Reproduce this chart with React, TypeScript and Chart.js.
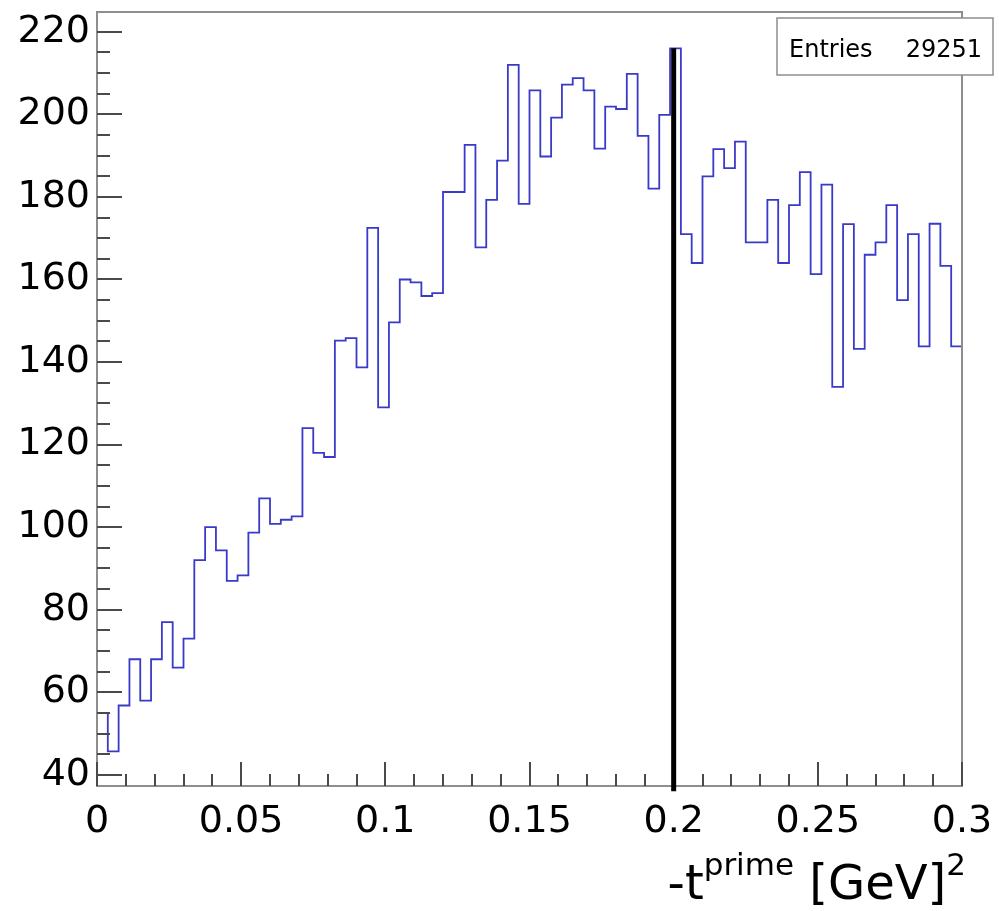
import React, { useEffect, useRef } from "react";
import { Chart, registerables } from "chart.js";

Chart.register(...registerables);

// ---- data ----
const xMin = 0;
const xMax = 0.3;
const yMin = 37.3;
const yMax = 224.8;
const nBins = 80;

const binCounts = [
  55, 45.7, 56.8, 68, 58, 68, 77, 66, 73, 92,
  100, 94.4, 87, 88.3, 98.7, 107, 100.8, 101.8, 102.6, 124,
  118, 117, 145.2, 145.8, 138.7, 172.5, 129, 149.6, 160, 159.3,
  156, 156.7, 181.2, 181.2, 192.6, 167.8, 179.3, 188.8, 212, 178.3,
  205.8, 189.8, 199.2, 207.2, 208.8, 205.8, 191.7, 201.9, 201.3, 209.8,
  194.8, 182, 199.9, 216, 171, 164, 185, 191.6, 187, 193.4,
  169, 169, 179.3, 164, 178, 186, 161.3, 183, 134, 173.4,
  143.2, 166, 169, 178, 155, 171, 143.8, 173.5, 163.3, 143.8,
];

const xTickValues = [0, 0.05, 0.1, 0.15, 0.2, 0.25, 0.3];
const xTickLabels = ["0", "0.05", "0.1", "0.15", "0.2", "0.25", "0.3"];
const yTickValues = [40, 60, 80, 100, 120, 140, 160, 180, 200, 220];
const yTickLabels = ["40", "60", "80", "100", "120", "140", "160", "180", "200", "220"];

const entriesLabel = "Entries";
const entriesValue = "29251";
const cutX = 0.2;
const cutLineBottom = 36;

const FONT = '"DejaVu Sans", "Liberation Sans", Arial, sans-serif';

const binWidth = (xMax - xMin) / nBins;
const histPoints = binCounts
  .map((v, i) => ({ x: xMin + i * binWidth, y: v }))
  .concat([{ x: xMax, y: binCounts[binCounts.length - 1] }]);

const zeroPad = (s: any) => {
  s.paddingTop = 0;
  s.paddingBottom = 0;
  s.paddingLeft = 0;
  s.paddingRight = 0;
};

const overlayPlugin = {
  id: "rootOverlay",
  afterDraw(chart: any) {
    const { ctx, chartArea: ca } = chart;
    const xs = chart.scales.x;
    const ys = chart.scales.y;
    ctx.save();

    // frame
    ctx.strokeStyle = "#8e8e8e";
    ctx.lineWidth = 2;
    ctx.strokeRect(ca.left, ca.top, ca.right - ca.left, ca.bottom - ca.top);

    // ticks
    ctx.strokeStyle = "#4a4a4a";
    ctx.lineWidth = 2;
    ctx.beginPath();
    const yStep = yTickValues[1] - yTickValues[0];
    const yMinorStep = yStep / 4;
    for (let k = -2; k <= 60; k++) {
      const v = yTickValues[0] + k * yMinorStep;
      if (v < yMin || v > yMax) continue;
      const py = Math.round(ys.getPixelForValue(v));
      const major = k % 4 === 0;
      ctx.moveTo(ca.left, py);
      ctx.lineTo(ca.left + (major ? 25 : 13), py);
    }
    const xStep = xTickValues[1] - xTickValues[0];
    const xMinorStep = xStep / 5;
    for (let k = 0; k <= 40; k++) {
      const v = xTickValues[0] + k * xMinorStep;
      if (v > xMax + 1e-9) continue;
      const px = Math.round(xs.getPixelForValue(v));
      const major = k % 5 === 0;
      ctx.moveTo(px, ca.bottom);
      ctx.lineTo(px, ca.bottom - (major ? 24 : 12));
    }
    ctx.stroke();

    // cut line
    const maxCount = Math.max(...binCounts);
    const cx = xs.getPixelForValue(cutX);
    ctx.strokeStyle = "#000";
    ctx.lineWidth = 5;
    ctx.beginPath();
    ctx.moveTo(cx, ys.getPixelForValue(maxCount));
    ctx.lineTo(cx, ys.getPixelForValue(cutLineBottom));
    ctx.stroke();

    // stats box
    const bx = 777, by = 18, bw = 216, bh = 57;
    ctx.fillStyle = "#fff";
    ctx.fillRect(bx, by, bw, bh);
    ctx.strokeStyle = "#8e8e8e";
    ctx.lineWidth = 1.5;
    ctx.strokeRect(bx, by, bw, bh);
    ctx.fillStyle = "#000";
    ctx.font = `24px ${FONT}`;
    ctx.textBaseline = "alphabetic";
    ctx.textAlign = "left";
    ctx.fillText(entriesLabel, bx + 12, by + 39);
    ctx.textAlign = "right";
    ctx.fillText(entriesValue, bx + bw - 11, by + 39);

    // axis title: -t^{prime} [GeV]^{2}
    const big = `48px ${FONT}`;
    const small = `31px ${FONT}`;
    const parts = [
      { t: "-t", f: big, dy: 0 },
      { t: "prime", f: small, dy: -24 },
      { t: " [GeV]", f: big, dy: 0 },
      { t: "2", f: small, dy: -24 },
    ];
    let total = 0;
    for (const p of parts) {
      ctx.font = p.f;
      total += ctx.measureText(p.t).width;
    }
    let tx = 966 - total;
    const base = 899;
    ctx.textAlign = "left";
    for (const p of parts) {
      ctx.font = p.f;
      ctx.fillText(p.t, tx, base + p.dy);
      tx += ctx.measureText(p.t).width;
    }
    ctx.restore();
  },
};

export default function App() {
  const ref = useRef<HTMLCanvasElement>(null);
  useEffect(() => {
    document.body.style.margin = "0";
    const chart = new Chart(ref.current as HTMLCanvasElement, {
      type: "line",
      data: {
        datasets: [
          {
            data: histPoints,
            stepped: "before",
            borderColor: "rgb(58,58,200)",
            borderWidth: 1.8,
            pointRadius: 0,
            fill: false,
            tension: 0,
          },
        ],
      },
      options: {
        responsive: false,
        animation: false,
        devicePixelRatio: 1,
        layout: { autoPadding: false, padding: { left: 0, right: 37, top: 12, bottom: 0 } },
        plugins: { legend: { display: false }, tooltip: { enabled: false } },
        scales: {
          x: {
            type: "linear",
            min: xMin,
            max: xMax,
            grid: { display: false, drawTicks: false },
            border: { display: false },
            afterBuildTicks: (s: any) => {
              s.ticks = xTickValues.map((v) => ({ value: v }));
            },
            afterFit: (s: any) => {
              s.height = 125;
              zeroPad(s);
            },
            ticks: {
              callback: (_v: any, i: number) => xTickLabels[i],
              font: { family: FONT, size: 38 },
              color: "#000",
              padding: 13,
              maxRotation: 0,
              autoSkip: false,
            },
          },
          y: {
            type: "linear",
            min: yMin,
            max: yMax,
            grid: { display: false, drawTicks: false },
            border: { display: false },
            afterBuildTicks: (s: any) => {
              s.ticks = yTickValues.map((v) => ({ value: v }));
            },
            afterFit: (s: any) => {
              s.width = 97;
              zeroPad(s);
            },
            ticks: {
              callback: (_v: any, i: number) => yTickLabels[i],
              font: { family: FONT, size: 38 },
              color: "#000",
              padding: 7,
              autoSkip: false,
            },
          },
        },
      },
      plugins: [overlayPlugin],
    } as any);
    return () => chart.destroy();
  }, []);
  return (
    <div style={{ position: "absolute", left: 0, top: 0, width: 999, height: 911, background: "#fff" }}>
      <canvas ref={ref} width={999} height={911} style={{ display: "block" }} />
    </div>
  );
}
